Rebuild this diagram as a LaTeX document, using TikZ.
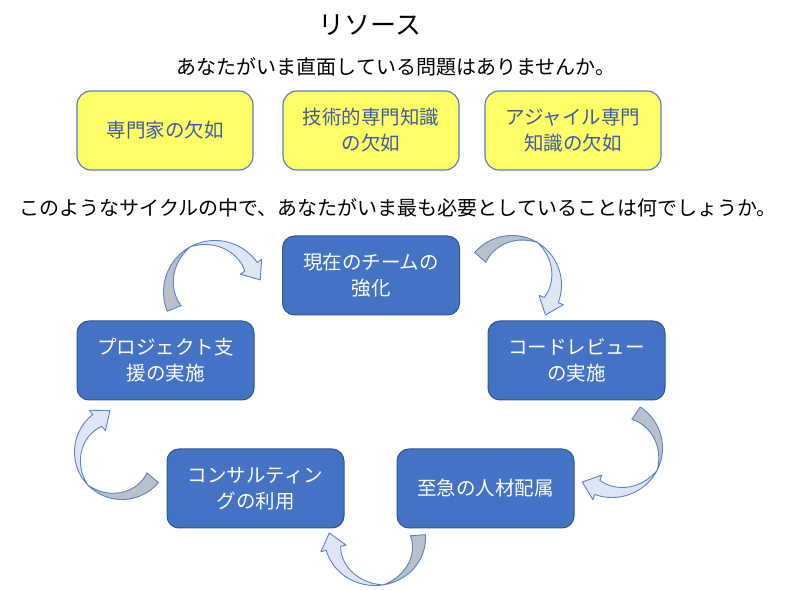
\documentclass[tikz,border=0pt]{standalone}
\usepackage{fontspec}
\setmainfont{Noto Sans CJK JP}
\usetikzlibrary{calc}
\definecolor{yfill}{HTML}{FFFF66}
\definecolor{ybord}{HTML}{5D7EC0}
\definecolor{ytext}{HTML}{3F5AA6}
\definecolor{bfill}{HTML}{4472C4}
\definecolor{bbord}{HTML}{2F5597}
\definecolor{argrey}{HTML}{B8C0CC}
\definecolor{arblue}{HTML}{DCE6F4}
\definecolor{arline}{HTML}{5B82C6}
\def\caw{15}
\def\cahw{7.5}
\def\cahb{13}
\def\cal{16}
\tikzset{
  ybox/.style={draw=ybord, fill=yfill, line width=1.2pt, rounded corners=14pt,
    minimum width=176pt, minimum height=79pt, text=ytext, align=center,
    font=\fontsize{19.5}{26}\selectfont, inner sep=0pt},
  bbox/.style={draw=bbord, fill=bfill, line width=1pt, rounded corners=12pt,
    minimum width=177pt, minimum height=79pt, text=white, align=center,
    font=\fontsize{19.5}{26}\selectfont, inner sep=0pt},
  arback/.style={fill=argrey, draw=arline, line width=0.9pt, line join=round},
  arfront/.style={fill=arblue, draw=arline, line width=0.9pt, line join=round},
}
% #1,#2 centre; #3,#4 radii; #5 tail angle; #6 head angle (clockwise)
\newcommand{\cvarrow}[6]{%
  \pgfmathsetmacro\cvm{(#5+#6)/2}%
  \pgfmathsetmacro\cvh{abs(#5-#6)/2}%
  \begin{scope}[shift={(#1,#2)}]
    \filldraw[arback] plot[domain=#5:\cvm,samples=40]
        ({(#3+\cahw)*cos(\x)},{(#4+\cahw)*sin(\x)})
      -- plot[domain=\cvm:#5,samples=40]
        ({(#3+\cahw-\caw*abs(\x-\cvm)/\cvh)*cos(\x)},{(#4+\cahw-\caw*abs(\x-\cvm)/\cvh)*sin(\x)})
      -- cycle;
    \filldraw[arfront] plot[domain=\cvm:#6,samples=40]
        ({(#3+\cahw)*cos(\x)},{(#4+\cahw)*sin(\x)})
      -- ($(#6:#3 and #4)+(#6:\cahb)$)
      -- ($(#6:#3 and #4)+(#6-90:\cal)$)
      -- ($(#6:#3 and #4)-(#6:\cahb)$)
      -- plot[domain=#6:\cvm,samples=40]
        ({(#3+\cahw-\caw*abs(\x-\cvm)/\cvh)*cos(\x)},{(#4+\cahw-\caw*abs(\x-\cvm)/\cvh)*sin(\x)})
      -- cycle;
  \end{scope}}
\begin{document}
\begin{tikzpicture}[x=1pt,y=1pt]
\useasboundingbox (0,0) rectangle (800,589);
\fill[white] (0,0) rectangle (800,589);

\node[font=\fontsize{26}{30}\selectfont] (title) at (370,564) {リソース};
\node[font=\fontsize{20}{24}\selectfont] (sub) at (396,522) {あなたがいま直面している問題はありませんか。};

\node[ybox] (y1) at (165,458.5) {専門家の欠如};
\node[ybox] (y2) at (371,458.5) {技術的専門知識\\の欠如};
\node[ybox] (y3) at (573,458.5) {アジャイル専門\\知識の欠如};

\node[font=\fontsize{20}{24}\selectfont] (q) at (398,381) {このようなサイクルの中で、あなたがいま最も必要としていることは何でしょうか。};

\node[bbox] (b1) at (371,313.5) {現在のチームの\\強化};
\node[bbox] (b2) at (576.5,228.5) {コードレビュー\\の実施};
\node[bbox] (b3) at (485.5,100.5) {至急の人材配属};
\node[bbox] (b4) at (255.5,100.5) {コンサルティン\\グの利用};
\node[bbox] (b5) at (165.5,228.5) {プロジェクト支\\援の実施};

\cvarrow{215}{297}{44}{44}{202}{35}
\cvarrow{512}{304}{42}{42}{139}{-21}
\cvarrow{612}{141}{43}{42}{56}{-110}
\cvarrow{375}{51}{43}{40}{4}{-165}
\cvarrow{122}{137}{40}{40}{-40}{-232}
\end{tikzpicture}
\end{document}
